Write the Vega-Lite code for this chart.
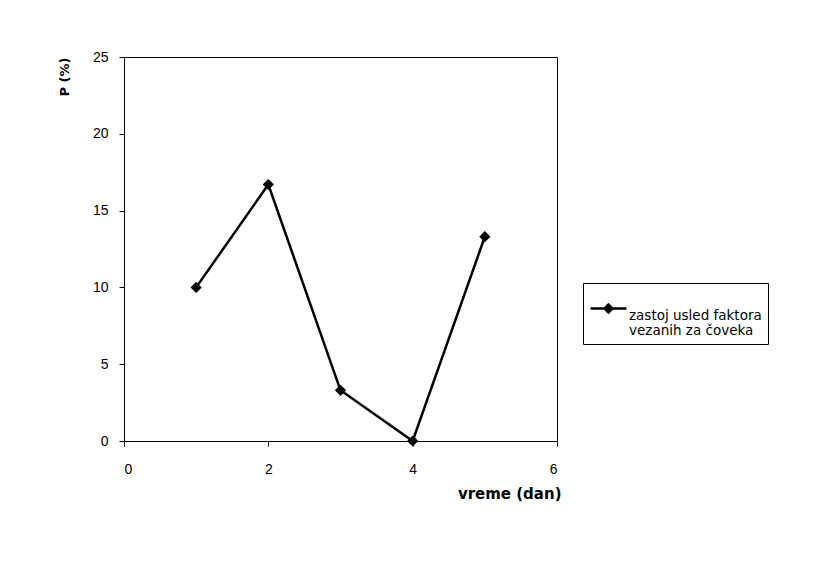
{
  "$schema": "https://vega.github.io/schema/vega-lite/v6.json",
  "autosize": "none",
  "width": 433,
  "height": 384,
  "padding": {"left": 124, "top": 57, "right": 280, "bottom": 124},
  "background": "white",
  "config": {
    "font": "Liberation Sans",
    "view": {"stroke": "black", "strokeWidth": 1}
  },
  "data": {
    "values": [
      {"dan": 1, "P": 10.0, "serija": "zastoj usled faktora|vezanih za čoveka"},
      {"dan": 2, "P": 16.7, "serija": "zastoj usled faktora|vezanih za čoveka"},
      {"dan": 3, "P": 3.3, "serija": "zastoj usled faktora|vezanih za čoveka"},
      {"dan": 4, "P": 0.0, "serija": "zastoj usled faktora|vezanih za čoveka"},
      {"dan": 5, "P": 13.3, "serija": "zastoj usled faktora|vezanih za čoveka"}
    ]
  },
  "encoding": {
    "x": {
      "field": "dan", "type": "quantitative",
      "scale": {"domain": [0, 6], "nice": false},
      "axis": {
        "values": [0, 2, 4, 6], "grid": false, "title": "vreme (dan)",
        "domainColor": "black", "tickColor": "black", "tickSize": 5,
        "labelColor": "black", "labelFontSize": 14, "labelPadding": 16,
        "titleFont": "DejaVu Sans", "titleFontSize": 15, "titleFontWeight": "bold", "titleColor": "black",
        "titleAnchor": "end", "titleAlign": "right", "titleBaseline": "middle",
        "titleX": 437, "titleY": 52
      }
    },
    "y": {
      "field": "P", "type": "quantitative",
      "scale": {"domain": [0, 25], "nice": false},
      "axis": {
        "values": [0, 5, 10, 15, 20, 25], "grid": false, "title": "P (%)",
        "domainColor": "black", "tickColor": "black", "tickSize": 5,
        "labelColor": "black", "labelFontSize": 14, "labelPadding": 11,
        "titleFont": "DejaVu Sans", "titleFontSize": 13, "titleFontWeight": "bold", "titleColor": "black",
        "titleAngle": -90, "titleAlign": "right", "titleBaseline": "middle",
        "titleX": -60, "titleY": 0
      }
    },
    "stroke": {
      "field": "serija", "type": "nominal",
      "scale": {"range": ["black"]},
      "legend": {
        "title": null, "orient": "none", "legendX": 459, "legendY": 226,
        "strokeColor": "black", "padding": 6, "fillColor": "white",
        "symbolType": "M-1,0H1M0,-0.22L0.22,0L0,0.22L-0.22,0Z",
        "symbolSize": 1296, "symbolStrokeWidth": 2.5,
        "symbolFillColor": "black", "symbolStrokeColor": "black",
        "labelExpr": "split(datum.label, '|')",
        "labelFont": "DejaVu Sans",
        "labelFontSize": 13.5, "labelColor": "black", "labelOffset": 1,
        "labelLimit": 300, "labelBaseline": "top", "labelLineHeight": 17
      }
    }
  },
  "layer": [
    {"mark": {"type": "line", "strokeWidth": 2.5}},
    {"mark": {"type": "point", "shape": "diamond", "filled": true, "size": 70, "opacity": 1, "color": "black"}}
  ]
}
